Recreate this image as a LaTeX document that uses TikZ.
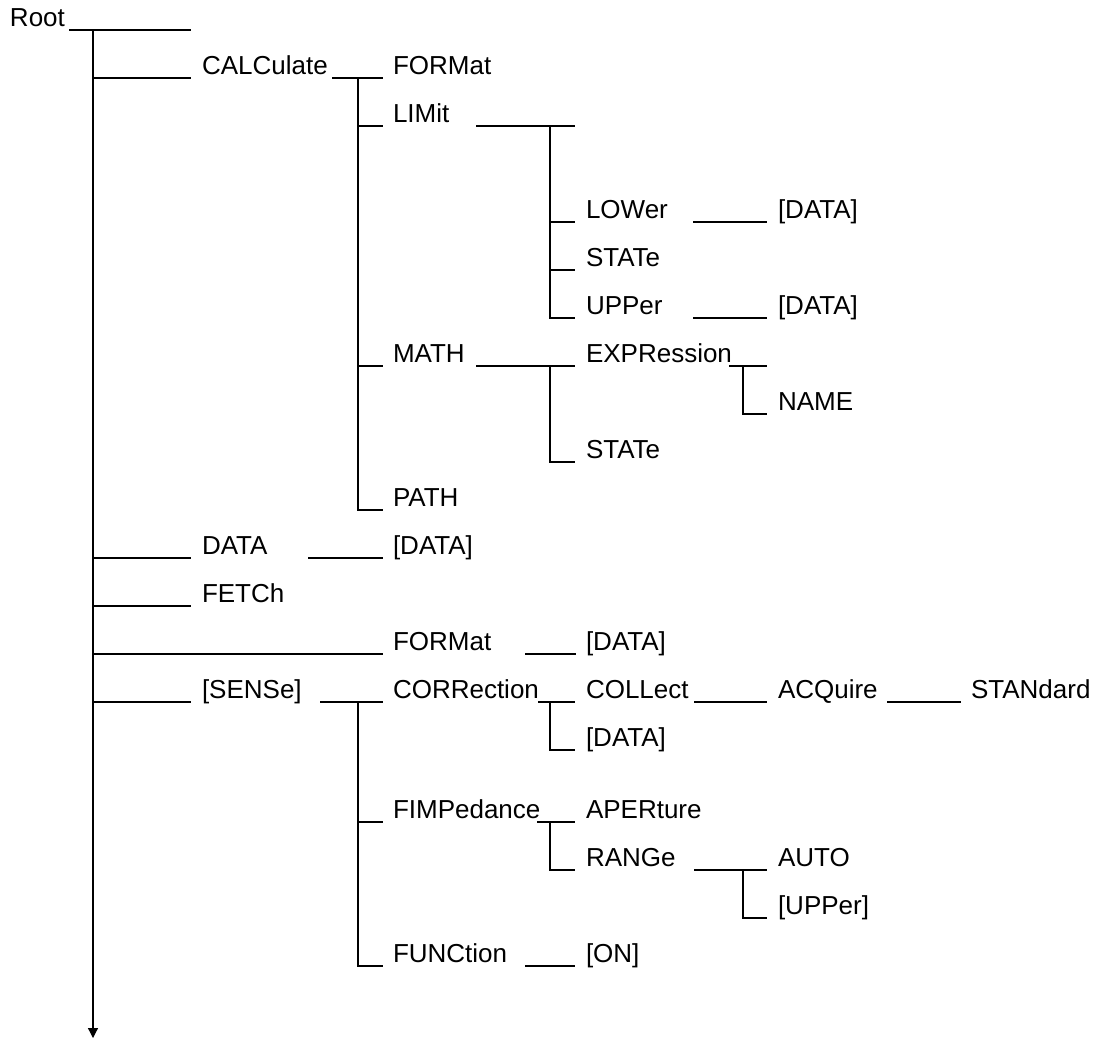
\documentclass[tikz,border=0pt]{standalone}
\usepackage{fontspec}
\setmainfont{Liberation Sans}
\usetikzlibrary{arrows.meta}
\begin{document}
\begin{tikzpicture}[x=0.5pt,y=-0.5pt,
  lbl/.style={anchor=base west,inner sep=0pt,outer sep=0pt,font=\fontsize{13pt}{15pt}\selectfont},
  ln/.style={line width=0.6pt,line cap=rect}]
\useasboundingbox (0,0) rectangle (1097,1040);
% labels (baseline = line y - 4)
\node[lbl] (root) at (10,26) {Root};
\node[lbl] (calc) at (202,74) {CALCulate};
\node[lbl] (cfmt) at (393,74) {FORMat};
\node[lbl] (lim) at (393,122) {LIMit};
\node[lbl] (low) at (586,218) {LOWer};
\node[lbl] (lowd) at (778,218) {[DATA]};
\node[lbl] (lst) at (586,266) {STATe};
\node[lbl] (upp) at (586,314) {UPPer};
\node[lbl] (uppd) at (778,314) {[DATA]};
\node[lbl] (math) at (393,362) {MATH};
\node[lbl] (expr) at (586,362) {EXPRession};
\node[lbl] (name) at (778,410) {NAME};
\node[lbl] (mst) at (586,458) {STATe};
\node[lbl] (path) at (393,506) {PATH};
\node[lbl] (data) at (202,554) {DATA};
\node[lbl] (datad) at (393,554) {[DATA]};
\node[lbl] (fetch) at (202,602) {FETCh};
\node[lbl] (fmt) at (393,650) {FORMat};
\node[lbl] (fmtd) at (586,650) {[DATA]};
\node[lbl] (sens) at (202,698) {[SENSe]};
\node[lbl] (corr) at (393,698) {CORRection};
\node[lbl] (coll) at (586,698) {COLLect};
\node[lbl] (acq) at (778,698) {ACQuire};
\node[lbl] (stan) at (971,698) {STANdard};
\node[lbl] (corrd) at (586,746) {[DATA]};
\node[lbl] (fimp) at (393,818) {FIMPedance};
\node[lbl] (aper) at (586,818) {APERture};
\node[lbl] (rang) at (586,866) {RANGe};
\node[lbl] (auto) at (778,866) {AUTO};
\node[lbl] (rupp) at (778,914) {[UPPer]};
\node[lbl] (func) at (393,962) {FUNCtion};
\node[lbl] (on) at (586,962) {[ON]};
\coordinate (trunktop) at (93,30);
\coordinate (trunkend) at (93,1038);
% trunk
\draw[ln] (70,30) -- (190,30);
\draw[line width=0.6pt,-{Triangle[length=5pt,width=5pt]}] (trunktop) -- (trunkend);
% level 1
\foreach \y in {78,558,606,702} \draw[ln] (93,\y) -- (190,\y);
\draw[ln] (93,654) -- (382,654);
% CALCulate subtree
\draw[ln] (333,78) -- (382,78);
\draw[ln] (358,78) -- (358,510);
\foreach \y in {126,366,510} \draw[ln] (358,\y) -- (382,\y);
% LIMit
\draw[ln] (477,126) -- (574,126);
\draw[ln] (550,126) -- (550,318);
\foreach \y in {222,270,318} \draw[ln] (550,\y) -- (574,\y);
\draw[ln] (694,222) -- (766,222);
\draw[ln] (694,318) -- (766,318);
% MATH
\draw[ln] (477,366) -- (574,366);
\draw[ln] (550,366) -- (550,462) -- (574,462);
\draw[ln] (730,366) -- (766,366);
\draw[ln] (743,366) -- (743,414) -- (766,414);
% DATA, FORMat
\draw[ln] (309,558) -- (382,558);
\draw[ln] (526,654) -- (575,654);
% SENSe
\draw[ln] (321,702) -- (382,702);
\draw[ln] (358,702) -- (358,966);
\foreach \y in {822,966} \draw[ln] (358,\y) -- (382,\y);
\draw[ln] (539,702) -- (574,702);
\draw[ln] (550,702) -- (550,750) -- (574,750);
\draw[ln] (695,702) -- (766,702);
\draw[ln] (888,702) -- (960,702);
\draw[ln] (538,822) -- (574,822);
\draw[ln] (550,822) -- (550,870) -- (574,870);
\draw[ln] (695,870) -- (766,870);
\draw[ln] (743,870) -- (743,918) -- (766,918);
\draw[ln] (526,966) -- (574,966);
\end{tikzpicture}
\end{document}
